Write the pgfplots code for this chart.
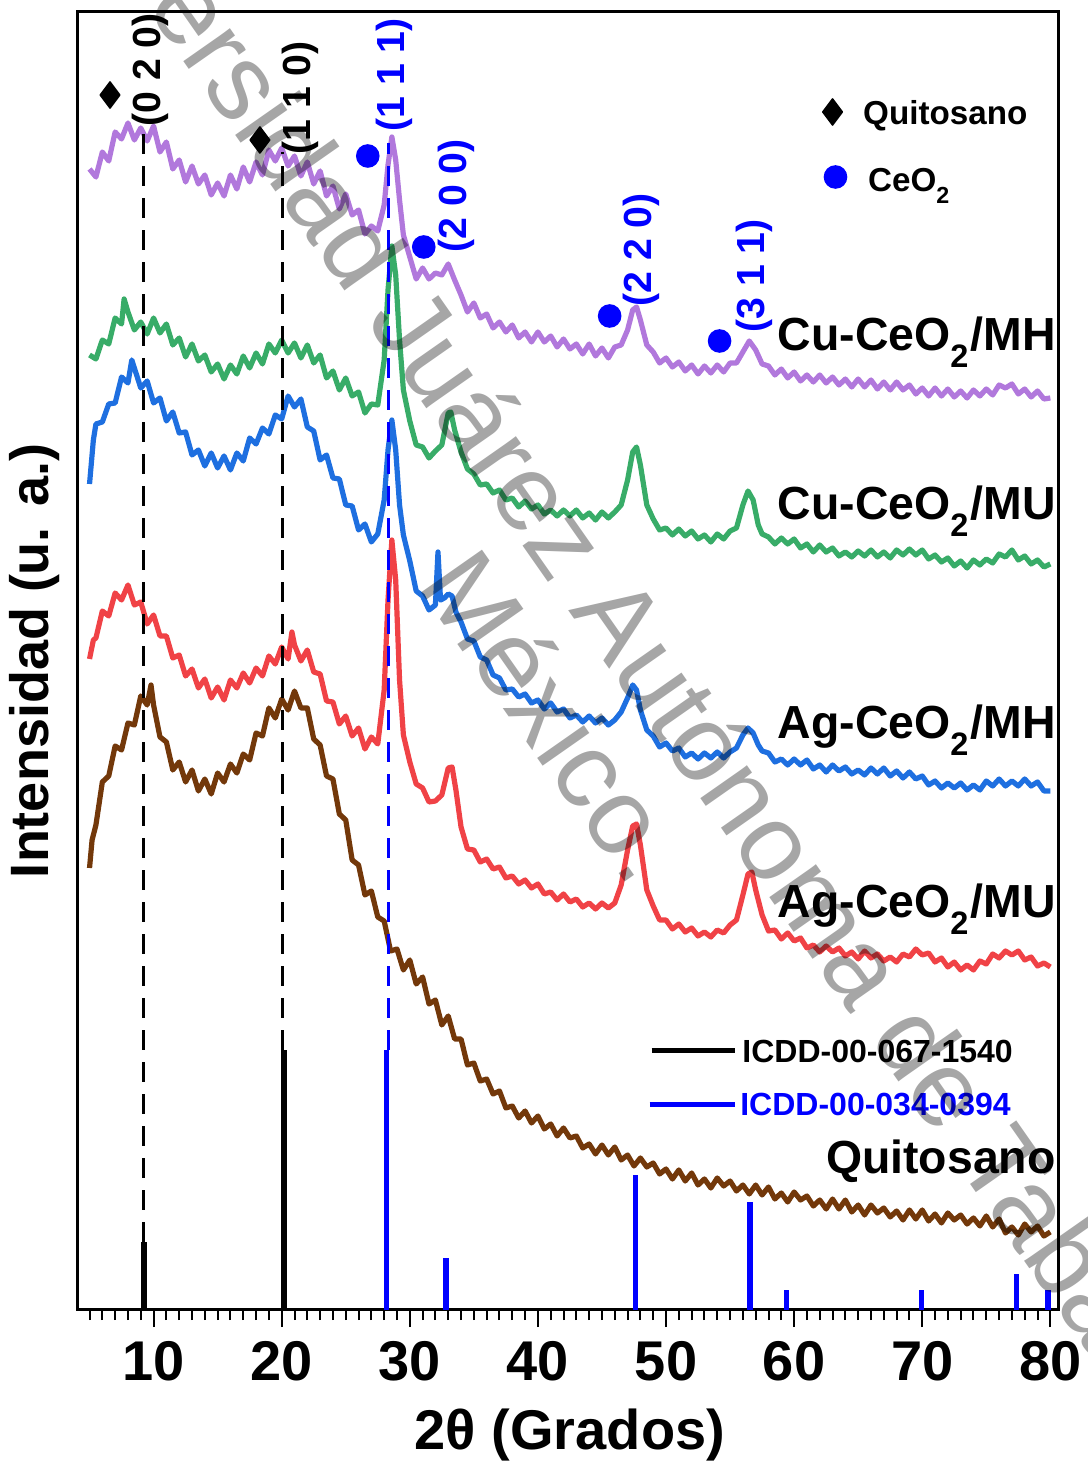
\documentclass[border=0pt]{standalone}
\usepackage{fontspec}
\setmainfont{Liberation Sans}
\usepackage{pgfplots}
\pgfplotsset{compat=1.18}
\definecolor{cpur}{RGB}{177,120,220}
\definecolor{cgrn}{RGB}{56,172,104}
\definecolor{cblu}{RGB}{30,111,224}
\definecolor{cred}{RGB}{240,66,70}
\definecolor{cbrn}{RGB}{115,56,10}
\newcommand{\ssub}[1]{\raisebox{-0.2em}{\textsubscript{#1}}}
\begin{document}
\begin{tikzpicture}
\begin{axis}[name=ax, scale only axis, width=245pt, height=324.5pt,
 xmin=4.1, xmax=80.6, ymin=0, ymax=1298,
 axis line style={line width=0.75pt},
 xtick={10,20,...,80}, minor xtick={5,6,...,80}, ytick=\empty,
 xtick pos=lower, tick align=outside,
 major tick length=4.25pt, minor tick length=2.5pt,
 every tick/.style={black, line width=0.5pt},
 /pgf/number format/assume math mode=true,
 xticklabel style={font=\fontsize{14}{16}\selectfont\bfseries},
 xlabel={2θ (Grados)}, ylabel={Intensidad (u. a.)},
 xlabel style={font=\fontsize{14}{16}\selectfont\bfseries, at={(axis description cs:0.502,-0.0963)}, anchor=center},
 ylabel style={font=\fontsize{13.5}{16}\selectfont\bfseries, at={(axis description cs:-0.0439,0.5)}, anchor=center},
 clip=false,
 every axis plot/.append style={line join=round},
]
% reference patterns
\addplot[ycomb, black, line width=1.5pt] coordinates {(9.25,68) (20.17,260)};
\addplot[ycomb, blue, line width=1.3pt] coordinates {(28.2,260) (32.83,52) (47.59,135) (56.56,108) (59.43,20) (69.97,20) (77.37,36) (79.81,20)};
% Quitosano
\addplot[cbrn, line width=1.3pt] coordinates {(5,442)(5.2,470)(5.5,485)(6,528)(6.5,534)(7,564)(7.5,560)(8,587)(8.5,585)(9,614)(9.5,605)(9.8,625)(10,605)(10.5,573)(11,568)(11.5,540)(12,548)(12.5,528)(13,540)(13.5,519)(14,531)(14.5,516)(15,537)(15.5,528)(16,546)(16.5,537)(17,556)(17.5,550)(18,577)(18.5,574)(19,602)(19.5,592)(20,611)(20.5,600)(21,619)(21.5,602)(22,602)(22.5,571)(23,565)(23.5,534)(24,531)(24.5,496)(25,490)(25.5,450)(26,445)(26.5,415)(27,419)(27.5,393)(28,389)(28.5,359)(29,361)(29.5,340)(30,350)(30.5,326)(31,333)(31.5,306)(32,310)(32.5,285)(33,294)(33.5,271)(34,271)(34.5,245)(35,247)(35.5,229)(36,231)(36.5,216)(37,219)(37.5,202)(38,204)(38.5,192)(39,199)(39.5,187)(40,194)(40.5,181)(41,186)(41.5,174)(42,182)(42.5,172)(43,174)(43.5,162)(44,166)(44.5,156)(45,165)(45.5,155)(46,163)(46.5,150)(47,155)(47.5,144)(48,152)(48.5,143)(49,147)(49.5,136)(50,141)(50.5,131)(51,140)(51.5,129)(52,137)(52.5,125)(53,131)(53.5,122)(54,132)(54.5,124)(55,129)(55.5,119)(56,125)(56.5,116)(57,125)(57.5,115)(58,123)(58.5,111)(59,117)(59.5,108)(60,118)(60.5,110)(61,114)(61.5,104)(62,110)(62.5,101)(63,111)(63.5,101)(64,110)(64.5,98)(65,105)(65.5,95)(66,105)(66.5,97)(67,102)(67.5,93)(68,99)(68.5,90)(69,100)(69.5,91)(70,100)(70.5,89)(71,96)(71.5,87)(72,97)(72.5,90)(73,95)(73.5,86)(74,92)(74.5,84)(75,94)(75.5,83)(76,91)(76.5,77)(77,83)(77.5,75)(78,86)(78.5,78)(79,84)(79.5,74)(80,78)};
% Ag-CeO2/MU
\addplot[cred, line width=1.3pt] coordinates {(5,651)(5.3,670)(5.5,672)(6,699)(6.5,694)(7,717)(7.5,710)(8,725)(8.5,705)(9,708)(9.5,686)(10,695)(10.5,674)(11,674)(11.5,652)(12,655)(12.5,634)(13,641)(13.5,622)(14,631)(14.5,612)(15,623)(15.5,610)(16,630)(16.5,622)(17,637)(17.5,627)(18,642)(18.5,634)(19,654)(19.5,646)(20,663)(20.5,651)(20.8,678)(21,665)(21.5,649)(22,660)(22.5,638)(23,636)(23.5,609)(24,608)(24.5,586)(25,594)(25.5,574)(26,582)(26.5,561)(27,573)(27.5,566)(28,620)(28.3,710)(28.6,770)(28.9,730)(29.2,630)(29.5,575)(30,548)(30.5,526)(31,522)(31.5,508)(32,509)(32.5,515)(33,542)(33.3,543)(33.6,520)(34,483)(34.5,461)(35,460)(35.5,448)(36,451)(36.5,441)(37,443)(37.5,432)(38,434)(38.5,426)(39,430)(39.5,422)(40,426)(40.5,416)(41,418)(41.5,410)(42,416)(42.5,408)(43,411)(43.5,403)(44,407)(44.5,401)(45,407)(45.5,402)(46,407)(46.5,425)(47,460)(47.4,484)(47.7,486)(48,465)(48.5,420)(49,404)(49.5,390)(50,390)(50.5,381)(51,386)(51.5,378)(52,382)(52.5,374)(53,378)(53.5,373)(54,380)(54.5,377)(55,385)(55.5,390)(56,415)(56.4,436)(56.7,438)(57,420)(57.5,395)(58,379)(58.5,380)(59,371)(59.5,377)(60,369)(60.5,372)(61,362)(61.5,365)(62,358)(62.5,364)(63,358)(63.5,362)(64,354)(64.5,358)(65,351)(65.5,359)(66,352)(66.5,356)(67,349)(67.5,353)(68,348)(68.5,356)(69,353)(69.5,361)(70,355)(70.5,357)(71,348)(71.5,352)(72,343)(72.5,348)(73,340)(73.5,345)(74,340)(74.5,349)(75,346)(75.5,356)(76,352)(76.5,359)(77,355)(77.5,359)(78,350)(78.5,353)(79,344)(79.5,347)(80,343)};
% Ag-CeO2/MH
\addplot[cblu, line width=1.3pt] coordinates {(5,826)(5.3,870)(5.5,886)(6,888)(6.5,906)(7,907)(7.5,933)(8,927)(8.3,950)(8.5,942)(9,922)(9.5,929)(10,907)(10.5,912)(11,889)(11.5,898)(12,877)(12.5,878)(13,855)(13.5,860)(14,844)(14.5,857)(15,842)(15.5,854)(16,840)(16.5,857)(17,849)(17.5,872)(18,866)(18.5,882)(19,876)(19.5,895)(20,891)(20.5,914)(21,903)(21.5,911)(22,883)(22.5,879)(23,850)(23.5,855)(24,832)(24.5,831)(25,805)(25.5,804)(26,780)(26.5,786)(27,768)(27.5,776)(28,810)(28.3,860)(28.6,890)(28.9,860)(29.2,805)(29.5,775)(30,749)(30.5,719)(31,714)(31.5,700)(32,705)(32.2,758)(32.4,710)(32.7,712)(33,716)(33.3,714)(33.6,698)(34,688)(34.5,671)(35,669)(35.5,653)(36,650)(36.5,635)(37,632)(37.5,620)(38,621)(38.5,613)(39,616)(39.5,607)(40,610)(40.5,601)(41,607)(41.5,598)(42,601)(42.5,592)(43,595)(43.5,588)(44,594)(44.5,587)(45,592)(45.5,585)(46,590)(46.5,598)(47,612)(47.4,625)(47.7,620)(48,600)(48.5,580)(49,574)(49.5,563)(50,567)(50.5,559)(51,562)(51.5,553)(52,557)(52.5,551)(53,557)(53.5,552)(54,558)(54.5,552)(55,558)(55.5,562)(56,575)(56.4,582)(56.8,577)(57.2,565)(57.5,559)(58,557)(58.5,548)(59,551)(59.5,545)(60,551)(60.5,545)(61,550)(61.5,541)(62,545)(62.5,538)(63,545)(63.5,539)(64,543)(64.5,536)(65,540)(65.5,535)(66,542)(66.5,536)(67,542)(67.5,534)(68,539)(68.5,532)(69,538)(69.5,531)(70,534)(70.5,525)(71,529)(71.5,522)(72,527)(72.5,522)(73,527)(73.5,520)(74,525)(74.5,520)(75,529)(75.5,524)(76,531)(76.5,524)(77,529)(77.5,524)(78,531)(78.5,524)(79,528)(79.5,519)(80,519)};
% Cu-CeO2/MU
\addplot[cgrn, line width=1.3pt] coordinates {(5,955)(5.5,951)(6,970)(6.5,966)(7,992)(7.5,986)(7.7,1011)(8,998)(8.5,980)(9,988)(9.5,976)(10,992)(10.5,977)(11,986)(11.5,965)(12,972)(12.5,953)(13,966)(13.5,949)(14,955)(14.5,938)(15,946)(15.5,931)(16,945)(16.5,936)(17,954)(17.5,942)(18,957)(18.5,946)(19,966)(19.5,957)(20,970)(20.5,957)(21,967)(21.5,952)(22,965)(22.5,947)(23,955)(23.5,932)(24,939)(24.5,920)(25,932)(25.5,914)(26,918)(26.5,897)(27,906)(27.5,905)(28,950)(28.3,1020)(28.6,1064)(28.9,1035)(29.2,970)(29.5,920)(30,889)(30.5,865)(31,863)(31.5,852)(32,859)(32.5,865)(33,897)(33.2,898)(33.5,880)(34,858)(34.5,841)(35,836)(35.5,825)(36,826)(36.5,817)(37,820)(37.5,810)(38,812)(38.5,803)(39,809)(39.5,801)(40,805)(40.5,796)(41,800)(41.5,794)(42,800)(42.5,794)(43,800)(43.5,792)(44,797)(44.5,790)(45,798)(45.5,792)(46,798)(46.5,805)(47,830)(47.4,858)(47.7,863)(48,845)(48.5,805)(49,791)(49.5,780)(50,782)(50.5,775)(51,781)(51.5,774)(52,779)(52.5,771)(53,775)(53.5,768)(54,776)(54.5,771)(55,779)(55.5,782)(56,805)(56.4,819)(56.8,810)(57.2,785)(57.5,776)(58,773)(58.5,766)(59,772)(59.5,766)(60,771)(60.5,762)(61,766)(61.5,758)(62,765)(62.5,758)(63,762)(63.5,754)(64,758)(64.5,753)(65,759)(65.5,754)(66,760)(66.5,753)(67,758)(67.5,752)(68,760)(68.5,755)(69,761)(69.5,755)(70,760)(70.5,751)(71,755)(71.5,748)(72,752)(72.5,744)(73,749)(73.5,742)(74,750)(74.5,745)(75,751)(75.5,747)(76,756)(76.5,753)(77,760)(77.5,750)(78,754)(78.5,746)(79,750)(79.5,743)(80,746)};
% Cu-CeO2/MH
\addplot[cpur, line width=1.3pt] coordinates {(5,1141)(5.5,1133)(6,1158)(6.5,1149)(7,1178)(7.5,1171)(8,1187)(8.5,1170)(9,1182)(9.5,1169)(10,1184)(10.5,1158)(11,1168)(11.5,1141)(12,1150)(12.5,1128)(13,1144)(13.5,1126)(14,1135)(14.5,1115)(15,1127)(15.5,1114)(16,1135)(16.5,1121)(17,1143)(17.5,1128)(18,1148)(18.5,1135)(19,1160)(19.5,1149)(20,1162)(20.5,1144)(21,1154)(21.5,1134)(22,1148)(22.5,1126)(23,1139)(23.5,1114)(24,1124)(24.5,1101)(25,1116)(25.5,1095)(26,1100)(26.5,1076)(27,1084)(27.5,1079)(28,1105)(28.3,1145)(28.6,1173)(28.9,1150)(29.2,1110)(29.5,1075)(30,1053)(30.5,1031)(31,1042)(31.5,1031)(32,1037)(32.5,1035)(33,1046)(33.5,1030)(34,1015)(34.5,998)(35,1007)(35.5,992)(36,996)(36.5,982)(37,988)(37.5,978)(38,985)(38.5,972)(39,978)(39.5,968)(40,978)(40.5,968)(41,974)(41.5,963)(42,971)(42.5,961)(43,966)(43.5,956)(44,966)(44.5,954)(45,962)(45.5,952)(46,963)(46.5,965)(47,980)(47.4,1000)(47.7,1003)(48,990)(48.5,965)(49,958)(49.5,947)(50,952)(50.5,943)(51,948)(51.5,939)(52,945)(52.5,936)(53,944)(53.5,937)(54,945)(54.5,938)(55,947)(55.5,947)(56,958)(56.5,969)(57,960)(57.5,946)(58,944)(58.5,935)(59,941)(59.5,932)(60,938)(60.5,929)(61,935)(61.5,928)(62,935)(62.5,927)(63,933)(63.5,925)(64,931)(64.5,923)(65,931)(65.5,923)(66,930)(66.5,921)(67,928)(67.5,920)(68,928)(68.5,920)(69,925)(69.5,916)(70,922)(70.5,914)(71,922)(71.5,914)(72,921)(72.5,913)(73,919)(73.5,912)(74,920)(74.5,914)(75,921)(75.5,915)(76,925)(76.5,922)(77,926)(77.5,916)(78,921)(78.5,913)(79,919)(79.5,911)(80,912)};
% dashed guide lines
\addplot[black, line width=0.75pt, dash pattern=on 5pt off 3pt] coordinates {(9.25,68) (9.25,1182)};
\addplot[black, line width=0.75pt, dash pattern=on 5pt off 3pt] coordinates {(20.1,260) (20.1,1158)};
\addplot[blue, line width=0.75pt, dash pattern=on 5pt off 3pt] coordinates {(28.3,260) (28.3,1167)};
% markers
\addplot[only marks, mark=diamond*, mark size=3.25pt, black] coordinates {(6.6,1215) (18.3,1170) (63.0,1198)};
\addplot[only marks, mark=*, mark size=2.75pt, blue] coordinates {(26.72,1154) (31.09,1063) (45.6,994) (54.18,969) (63.23,1133)};
% ICDD legend lines
\addplot[black, line width=1.25pt] coordinates {(48.88,259) (55.35,259)};
\addplot[blue, line width=1.25pt] coordinates {(48.72,205) (55.35,205)};
% Miller indices
\tikzset{hkl/.style={rotate=90, anchor=center, font=\fontsize{9.8}{10}\selectfont\bfseries}}
\node[hkl] at (axis cs:9.72,1240) {(0 2 0)};
\node[hkl] at (axis cs:21.42,1212) {(1 1 0)};
\node[hkl, text=blue] at (axis cs:28.83,1235) {(1 1 1)};
\node[hkl, text=blue] at (axis cs:33.67,1114) {(2 0 0)};
\node[hkl, text=blue] at (axis cs:48.1,1060) {(2 2 0)};
\node[hkl, text=blue] at (axis cs:56.9,1034) {(3 1 1)};
% top-right legend
\node[anchor=base west, inner sep=0pt, font=\fontsize{8.3}{10}\selectfont\bfseries] at (axis cs:65.33,1185) {Quitosano};
\node[anchor=base west, inner sep=0pt, font=\fontsize{8.3}{10}\selectfont\bfseries] at (axis cs:65.72,1118) {CeO\ssub{2}};
% ICDD legend texts
\node[anchor=west, inner sep=0pt, font=\fontsize{8}{10}\selectfont\bfseries] at (axis cs:55.9,259) {ICDD-00-067-1540};
\node[anchor=west, inner sep=0pt, text=blue, font=\fontsize{8}{10}\selectfont\bfseries] at (axis cs:55.74,205) {ICDD-00-034-0394};
% series labels
\tikzset{slab/.style={anchor=base east, inner sep=0pt, font=\fontsize{11.6}{13}\selectfont\bfseries}}
\node[slab] at (axis cs:80.47,959) {Cu-CeO\ssub{2}/MH};
\node[slab] at (axis cs:80.47,790) {Cu-CeO\ssub{2}/MU};
\node[slab] at (axis cs:80.47,571) {Ag-CeO\ssub{2}/MH};
\node[slab] at (axis cs:80.47,392) {Ag-CeO\ssub{2}/MU};
\node[slab] at (axis cs:80.47,136) {Quitosano};
% watermark
\node[rotate=-55, anchor=center, text=black, text opacity=0.35, font=\fontsize{27}{28}\selectfont] at (axis cs:47.63,672) {Universidad Juárez Autónoma de Tabasco};
\node[rotate=-55, anchor=center, text=black, text opacity=0.35, font=\fontsize{27}{28}\selectfont] at (axis cs:41.39,595) {México.};
\end{axis}
\pgfresetboundingbox
\path[use as bounding box] ([xshift=-19.5pt,yshift=-38.5pt]ax.south west) rectangle ([xshift=7.25pt,yshift=3pt]ax.north east);
\end{tikzpicture}
\end{document}
